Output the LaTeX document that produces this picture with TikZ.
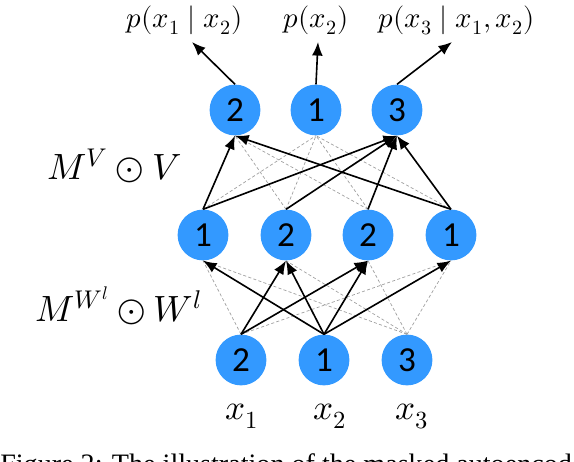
\documentclass[tikz,border=0pt]{standalone}
\usepackage{amsmath}
\usepackage{fontspec}
\setmainfont{Liberation Serif}
\newfontfamily\unitfont{Carlito}
\usepackage{unicode-math}
\setmathfont{Latin Modern Math}
\usetikzlibrary{arrows.meta,positioning}
\definecolor{UnitBlue}{HTML}{3399FF}
\definecolor{UnitInk}{HTML}{000000}
\definecolor{MaskGray}{HTML}{A0A0A0}
\tikzset{
  unit/.style={circle, fill=UnitBlue, draw=none, minimum size=1.27cm, inner sep=0pt, text=UnitInk, font=\unitfont\fontsize{25}{25}\selectfont},
  keep/.style={-{Latex[length=3.4mm,width=2.7mm]}, line width=1.15pt, draw=UnitInk},
  mask/.style={line width=0.5pt, draw=MaskGray, dash pattern=on 2.2pt off 1.6pt},
  outlabel/.style={font=\fontsize{20.5}{20.5}\selectfont, anchor=base, inner sep=0pt},
  inlabel/.style={font=\fontsize{25}{25}\selectfont, anchor=base, inner sep=0pt},
  layerlabel/.style={font=\fontsize{26}{26}\selectfont, anchor=base west, inner sep=0pt}
}

\begin{document}
\begin{tikzpicture}
\useasboundingbox (0,0) rectangle (14.35,11.55);
% output layer
\node[unit] (top2) at (5.875,8.8) {2};
\node[unit] (top1) at (7.9,8.8) {1};
\node[unit] (top3) at (9.925,8.8) {3};
% hidden layer
\node[unit] (mid1) at (5.075,5.675) {1};
\node[unit] (mid2) at (7.15,5.675) {2};
\node[unit] (mid3) at (9.2,5.675) {2};
\node[unit] (mid4) at (11.275,5.675) {1};
% input layer
\node[unit] (in1) at (6.025,2.55) {2};
\node[unit] (in2) at (8.1,2.55) {1};
\node[unit] (in3) at (10.175,2.55) {3};

% masked weights
\draw[mask] (in1.north) -- (mid1.south);
\draw[mask] (in1.north) -- (mid4.south);
\draw[mask] (in3.north) -- (mid1.south);
\draw[mask] (in3.north) -- (mid2.south);
\draw[mask] (in3.north) -- (mid3.south);
\draw[mask] (in3.north) -- (mid4.south);
\draw[mask] (mid2.north) -- (top2.south);
\draw[mask] (mid3.north) -- (top2.south);
\draw[mask] (mid1.north) -- (top1.south);
\draw[mask] (mid2.north) -- (top1.south);
\draw[mask] (mid3.north) -- (top1.south);
\draw[mask] (mid4.north) -- (top1.south);

% kept weights
\draw[keep] (in2.north) -- (mid1.south);
\draw[keep] (in1.north) -- (mid2.south);
\draw[keep] (in2.north) -- (mid2.south);
\draw[keep] (in1.north) -- (mid3.south);
\draw[keep] (in2.north) -- (mid3.south);
\draw[keep] (in2.north) -- (mid4.south);
\draw[keep] (mid1.north) -- (top2.south);
\draw[keep] (mid4.north) -- (top2.south);
\draw[keep] (mid1.north) -- (top3.south);
\draw[keep] (mid2.north) -- (top3.south);
\draw[keep] (mid3.north) -- (top3.south);
\draw[keep] (mid4.north) -- (top3.south);

% outputs
\coordinate (out2) at (4.8,10.5);
\coordinate (out1) at (7.95,10.5);
\coordinate (out3) at (11.3,10.5);
\draw[keep] (top2.north) -- (out2);
\draw[keep] (top1.north) -- (out1);
\draw[keep] (top3.north) -- (out3);
\node[outlabel] (p2) at (4.61,10.87) {$p(x_1\mid x_2)$};
\node[outlabel] (p1) at (7.9,10.87) {$p(x_2)$};
\node[outlabel] (p3) at (11.41,10.87) {$p(x_3\mid x_1,x_2)$};

% inputs
\node[inlabel] (x1) at (6.06,1.05) {$x_1$};
\node[inlabel] (x2) at (8.26,1.05) {$x_2$};
\node[inlabel] (x3) at (10.31,1.05) {$x_3$};

% layer masks
\node[layerlabel] (mv) at (1.18,7.05) {$M^{V}\odot V$};
\node[layerlabel] (mw) at (0.88,3.5) {$M^{W^{l}}\odot W^{l}$};

% caption, cut by the page edge
\node[anchor=base west, inner sep=0pt, font=\fontsize{20}{20}\selectfont] (cap) at (0,-0.29) {Figure 2: The illustration of the masked autoencoder};
\end{tikzpicture}
\end{document}
